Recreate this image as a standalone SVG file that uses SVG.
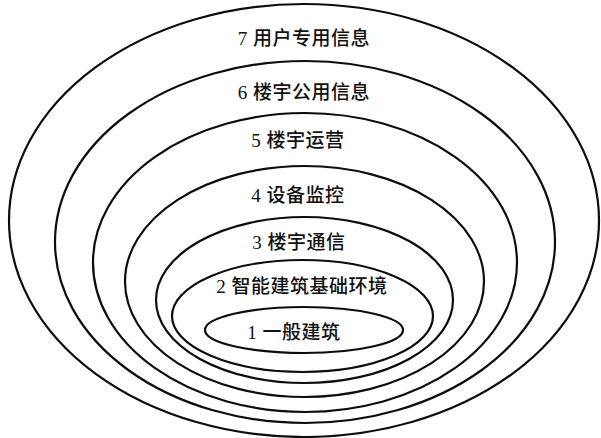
<svg xmlns="http://www.w3.org/2000/svg" width="601" height="438" viewBox="0 0 601 438">
<style>
.ring{fill:none;stroke:#0d0d0d;stroke-width:2.2}
.lbl{font-family:"Liberation Serif","Noto Sans CJK SC",serif;font-size:19px;font-weight:500;letter-spacing:0.5px;fill:#111;text-anchor:middle}
</style>
<rect width="601" height="438" fill="#ffffff"/>
<g id="layer7"><ellipse class="ring" cx="304" cy="220.5" rx="295" ry="216.5"/><text class="lbl" x="304" y="45">7 用户专用信息</text></g>
<g id="layer6"><ellipse class="ring" cx="305" cy="242" rx="250" ry="181"/><text class="lbl" x="304" y="99">6 楼宇公用信息</text></g>
<g id="layer5"><ellipse class="ring" cx="305" cy="262.5" rx="212" ry="149.5"/><text class="lbl" x="298" y="147">5 楼宇运营</text></g>
<g id="layer4"><ellipse class="ring" cx="304.5" cy="281.5" rx="179.5" ry="115.5"/><text class="lbl" x="298" y="202">4 设备监控</text></g>
<g id="layer3"><ellipse class="ring" cx="304.5" cy="300" rx="148.5" ry="83"/><text class="lbl" x="299" y="249">3 楼宇通信</text></g>
<g id="layer2"><ellipse class="ring" cx="302.5" cy="316" rx="130.5" ry="56"/><text class="lbl" x="302" y="293">2 智能建筑基础环境</text></g>
<g id="layer1"><ellipse class="ring" cx="304" cy="330" rx="99" ry="23"/><text class="lbl" x="294" y="339">1 一般建筑</text></g>
<g id="connectors"/>
</svg>
